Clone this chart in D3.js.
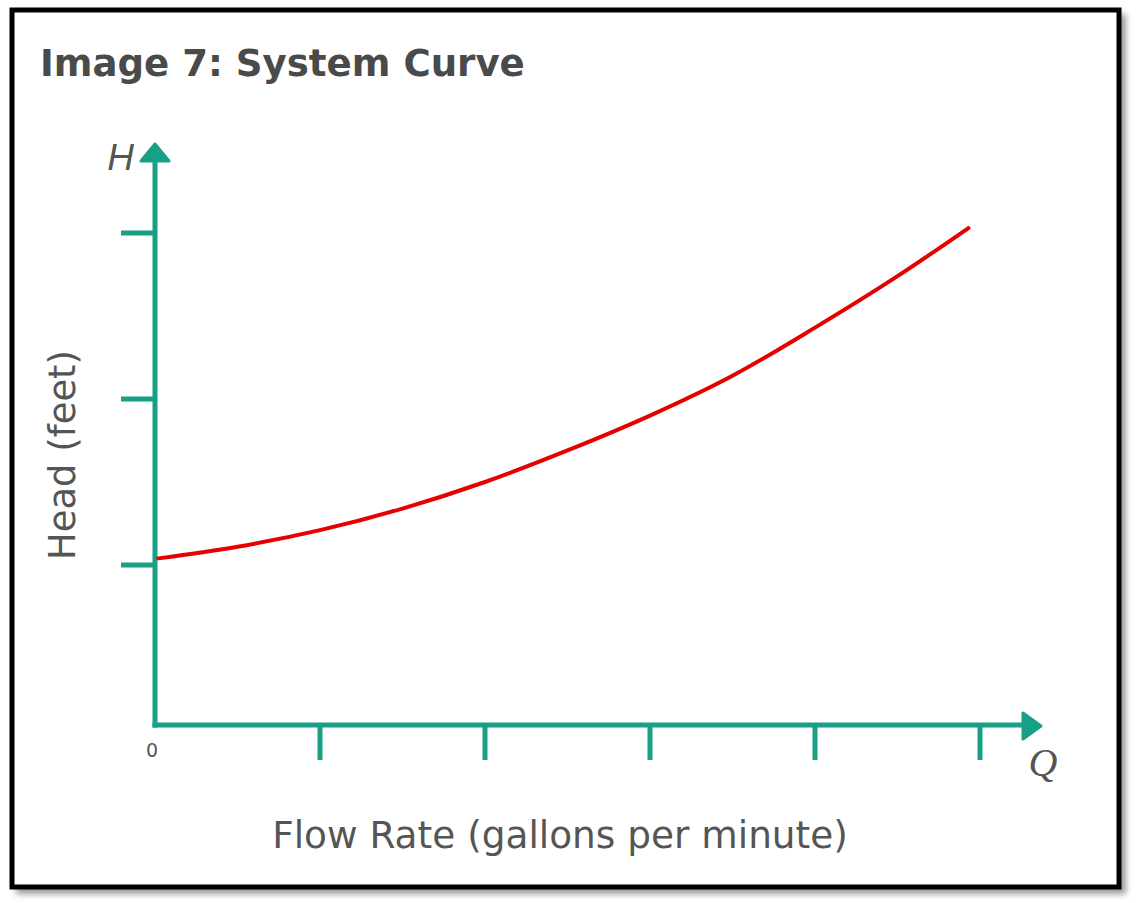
<!DOCTYPE html>
<html>
<head>
<meta charset="utf-8">
<script src="https://cdn.jsdelivr.net/npm/d3@7"></script>
<style>
  html, body { margin: 0; padding: 0; background: #ffffff; }
  svg { display: block; }
</style>
</head>
<body>
<svg id="chart" width="1140" height="903"></svg>
<script>
// ---- data (units = tick spacings) ----
const flowRate = [0.02, 0.5, 1, 1.5, 2, 2.5, 3, 3.5, 4, 4.5, 4.93];
const head     = [1.04, 1.11, 1.21, 1.34, 1.50, 1.69, 1.90, 2.14, 2.43, 2.74, 3.03];
const xTicks = [1, 2, 3, 4, 5];
const yTicks = [1, 2, 3];
const xZeroLabel = ["0"];
const titleText = "Image 7: System Curve";
const xAxisTitle = "Flow Rate (gallons per minute)";
const yAxisTitle = "Head (feet)";
const xSymbol = "Q";
const ySymbol = "H";

const teal = "#17a086";
const textGray = "#555555";

const svg = d3.select("#chart");

// shadow + frame
const defs = svg.append("defs");
const f = defs.append("filter").attr("id", "blur").attr("x", "-5%").attr("y", "-5%").attr("width", "110%").attr("height", "110%");
f.append("feGaussianBlur").attr("stdDeviation", 3);
svg.append("rect").attr("x", 16).attr("y", 14).attr("width", 1110).attr("height", 880)
  .attr("fill", "#9a9a9a").attr("filter", "url(#blur)");
svg.append("rect").attr("x", 12).attr("y", 10).attr("width", 1107).attr("height", 877)
  .attr("fill", "#ffffff").attr("stroke", "#000").attr("stroke-width", 5);

// scales
const x = d3.scaleLinear().domain([0, 5]).range([155, 980]);
const y = d3.scaleLinear().domain([0, 3]).range([731, 233]);
const axisY = 725; // pixel row of the horizontal axis line

// fit a text element to a target width
function fit(sel, width) {
  const node = sel.node();
  const fs = parseFloat(sel.attr("font-size"));
  const w = node.getComputedTextLength();
  sel.attr("font-size", (fs * width / w).toFixed(2));
}

// title
const t = svg.append("text").attr("x", 40).attr("y", 76)
  .attr("font-family", "DejaVu Sans").attr("font-weight", "bold")
  .attr("font-size", 32).attr("fill", "#4a4a4a").text(titleText);
fit(t, 485);

// y axis ticks
svg.append("g").selectAll("line").data(yTicks).join("line")
  .attr("x1", 121).attr("x2", x(0)).attr("y1", d => y(d)).attr("y2", d => y(d))
  .attr("stroke", teal).attr("stroke-width", 5);
// x axis ticks
svg.append("g").selectAll("line").data(xTicks).join("line")
  .attr("x1", d => x(d)).attr("x2", d => x(d)).attr("y1", axisY).attr("y2", 760)
  .attr("stroke", teal).attr("stroke-width", 5);

// axis lines
svg.append("line").attr("x1", x(0)).attr("x2", x(0)).attr("y1", 158).attr("y2", axisY + 2.5)
  .attr("stroke", teal).attr("stroke-width", 5);
svg.append("line").attr("x1", x(0) - 2.5).attr("x2", 1026).attr("y1", axisY).attr("y2", axisY)
  .attr("stroke", teal).attr("stroke-width", 5);

// arrowheads
svg.append("path")
  .attr("d", `M${x(0)},144 L${x(0) + 14},161 L${x(0) - 14},161 Z`)
  .attr("fill", teal).attr("stroke", teal).attr("stroke-width", 3).attr("stroke-linejoin", "round");
svg.append("path")
  .attr("d", `M1041,${axisY + 1} L1023,${axisY - 12} L1023,${axisY + 14} Z`)
  .attr("fill", teal).attr("stroke", teal).attr("stroke-width", 3).attr("stroke-linejoin", "round");

// curve
const line = d3.line().x((d, i) => x(flowRate[i])).y(d => y(d)).curve(d3.curveMonotoneX);
svg.append("path").attr("d", line(head))
  .attr("fill", "none").attr("stroke", "#e60000").attr("stroke-width", 4).attr("stroke-linecap", "round");

// labels
svg.append("g").selectAll("text").data(xZeroLabel).join("text")
  .attr("x", x(0) - 3).attr("y", 757).attr("text-anchor", "middle")
  .attr("font-family", "DejaVu Sans").attr("font-size", 19).attr("fill", textGray).text(d => d);

svg.append("text").attr("x", 134).attr("y", 170).attr("text-anchor", "end")
  .attr("font-family", "Liberation Sans").attr("font-style", "italic")
  .attr("font-size", 37).attr("fill", textGray).text(ySymbol);

svg.append("text").attr("x", 1043).attr("y", 776).attr("text-anchor", "middle")
  .attr("font-family", "Liberation Serif").attr("font-style", "italic")
  .attr("font-size", 40).attr("fill", textGray).text(xSymbol);

const xt = svg.append("text").attr("x", 560).attr("y", 848).attr("text-anchor", "middle")
  .attr("font-family", "DejaVu Sans").attr("font-size", 32).attr("fill", textGray).text(xAxisTitle);
fit(xt, 576);

const yt = svg.append("text").attr("transform", "translate(75,455) rotate(-90)").attr("text-anchor", "middle")
  .attr("font-family", "DejaVu Sans").attr("font-size", 32).attr("fill", textGray).text(yAxisTitle);
fit(yt, 210);
</script>
</body>
</html>
